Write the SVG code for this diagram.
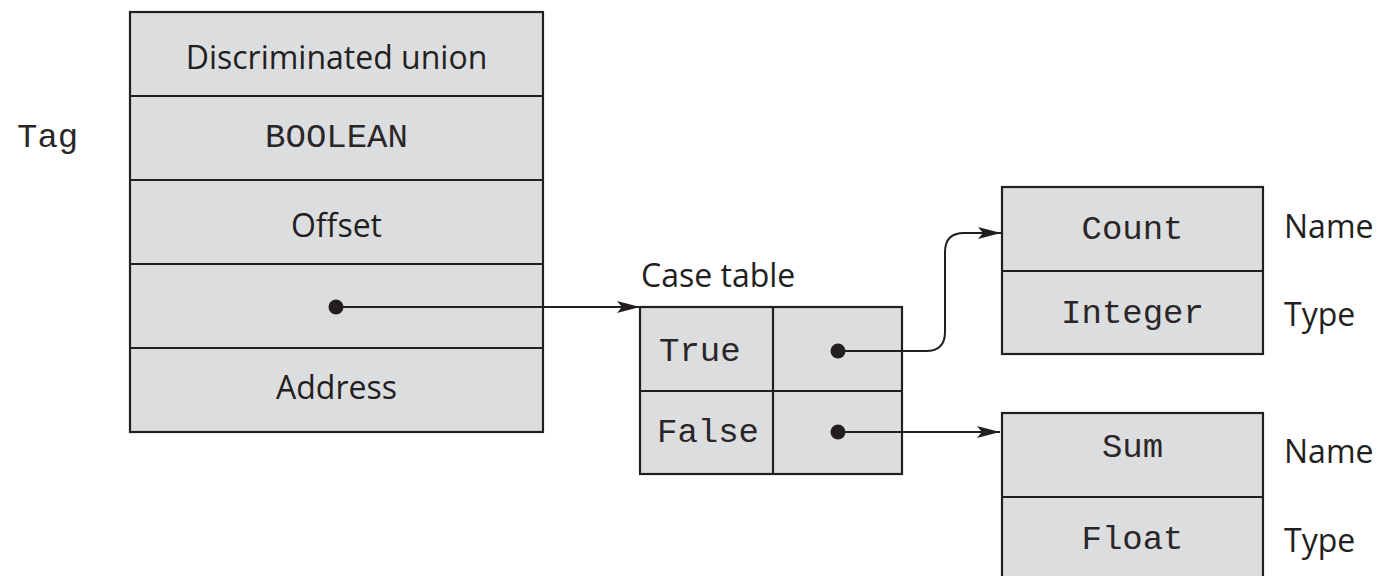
<svg xmlns="http://www.w3.org/2000/svg" width="1387" height="576" viewBox="0 0 1387 576">
<style>
.box{fill:#dcdddf;stroke:#231f20;stroke-width:2.2}
.ln{fill:none;stroke:#231f20;stroke-width:2.2}
.sans{font-family:"Open Sans","Noto Sans",sans-serif;font-size:32px;fill:#231f20}
.mono{font-family:"Liberation Mono","Courier New",monospace;font-size:34px;fill:#2a2627}
.c{text-anchor:middle}
.conn{fill:none;stroke:#231f20;stroke-width:2}
.dot{fill:#231f20}
</style>
<defs>
<marker id="ah" markerWidth="24" markerHeight="14" refX="23" refY="7" orient="auto" markerUnits="userSpaceOnUse">
<path d="M0,1 L23,7 L0,13 L5,7 Z" fill="#231f20"/>
</marker>
</defs>
<rect width="1387" height="576" fill="#ffffff"/>
<g id="union">
<rect class="box" x="130" y="12" width="413" height="420"/>
<line class="ln" x1="130" y1="96" x2="543" y2="96"/>
<line class="ln" x1="130" y1="180" x2="543" y2="180"/>
<line class="ln" x1="130" y1="264" x2="543" y2="264"/>
<line class="ln" x1="130" y1="348" x2="543" y2="348"/>
<text class="sans c" x="336.5" y="69">Discriminated union</text>
<text class="mono c" x="336.5" y="147">BOOLEAN</text>
<text class="sans c" x="336.5" y="237">Offset</text>
<text class="sans c" x="336.5" y="399">Address</text>
</g>
<g id="tag-label"><text class="mono" x="17" y="147">Tag</text></g>
<g id="case-table">
<text class="sans" x="641" y="287">Case table</text>
<rect class="box" x="640" y="307" width="262" height="167"/>
<line class="ln" x1="640" y1="391" x2="902" y2="391"/>
<line class="ln" x1="773" y1="307" x2="773" y2="474"/>
<text class="mono" x="659" y="361">True</text>
<text class="mono" x="657" y="442">False</text>
</g>
<g id="count-record">
<rect class="box" x="1002" y="187" width="261" height="167"/>
<line class="ln" x1="1002" y1="271" x2="1263" y2="271"/>
<text class="mono c" x="1132.5" y="239">Count</text>
<text class="mono c" x="1132.5" y="323">Integer</text>
<text class="sans" x="1284" y="238">Name</text>
<text class="sans" x="1284" y="326">Type</text>
</g>
<g id="sum-record">
<rect class="box" x="1002" y="413" width="261" height="170"/>
<line class="ln" x1="1002" y1="497" x2="1263" y2="497"/>
<text class="mono c" x="1132.5" y="457">Sum</text>
<text class="mono c" x="1132.5" y="549">Float</text>
<text class="sans" x="1284" y="463">Name</text>
<text class="sans" x="1284" y="552">Type</text>
</g>
<g id="connectors">
<circle class="dot" cx="336" cy="307" r="7.5"/>
<path class="conn" d="M336,307 L640,307" marker-end="url(#ah)"/>
<circle class="dot" cx="838" cy="351" r="7.5"/>
<path class="conn" d="M838,351 L926,351 Q945,351 945,332 L945,252 Q945,233 964,233 L1001,233" marker-end="url(#ah)"/>
<circle class="dot" cx="838" cy="432" r="7.5"/>
<path class="conn" d="M838,432 L1000,432" marker-end="url(#ah)"/>
</g>
</svg>
